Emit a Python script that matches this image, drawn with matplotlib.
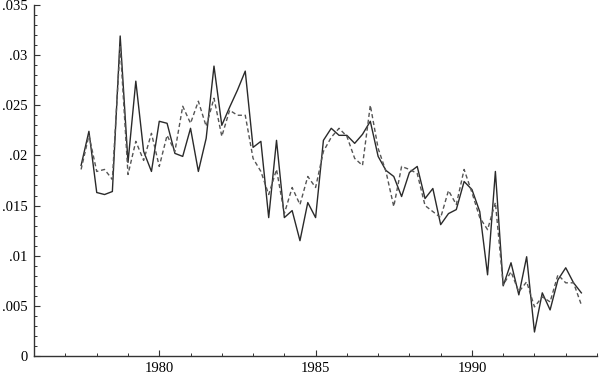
import numpy as np
import matplotlib
matplotlib.use('Agg')
import matplotlib.pyplot as plt
from matplotlib.ticker import MultipleLocator, FuncFormatter

# quarterly series, 1977.5 .. 1993.5
start_year = 1977.5
solid = [.0190, .0224, .0163, .0161, .0164, .0319, .0193, .0274, .0204, .0184,
         .0234, .0232, .0202, .0199, .0227, .0184, .0217, .0289, .0230, .0248,
         .0265, .0284, .0208, .0214, .0138, .0215, .0138, .0145, .0115, .0153,
         .0138, .0215, .0227, .0220, .0220, .0212, .0221, .0234, .0199, .0185,
         .0179, .0159, .0183, .0189, .0157, .0167, .0131, .0142, .0146, .0174,
         .0166, .0144, .0081, .0184, .0070, .0093, .0061, .0099, .0024, .0063,
         .0046, .0076, .0088, .0073, .0063]
dashed = [.0186, .0220, .0184, .0186, .0176, .0310, .0181, .0214, .0195, .0222,
          .0189, .0220, .0204, .0249, .0232, .0254, .0229, .0257, .0219, .0245,
          .0240, .0240, .0197, .0184, .0161, .0186, .0142, .0168, .0151, .0179,
          .0168, .0204, .0218, .0227, .0219, .0197, .0190, .0250, .0207, .0184,
          .0149, .0189, .0186, .0182, .0150, .0144, .0138, .0165, .0151, .0186,
          .0163, .0138, .0126, .0153, .0071, .0084, .0064, .0074, .0049, .0059,
          .0054, .0081, .0073, .0073, .0051]

t = start_year + 0.25 * np.arange(len(solid))

plt.rcParams['font.family'] = ['Liberation Serif', 'DejaVu Serif']

fig = plt.figure(figsize=(6, 3.76), dpi=100)
ax = fig.add_axes([0.057, 0.053, 0.938, 0.934])

ax.plot(t, solid, color='#2a2a2a', lw=1.0)
ax.plot(t, dashed, color='#555555', lw=1.0, ls=(0, (3, 2)))

ax.set_xlim(1976, 1994)
ax.set_ylim(0, 0.035)

ax.xaxis.set_major_locator(MultipleLocator(5))
ax.xaxis.set_minor_locator(MultipleLocator(1))
ax.yaxis.set_major_locator(MultipleLocator(0.005))
ax.yaxis.set_minor_locator(MultipleLocator(0.001))

def yfmt(v, pos):
    if abs(v) < 1e-9:
        return '0'
    s = ('%.3f' % v).rstrip('0')
    return s.lstrip('0')

ax.yaxis.set_major_formatter(FuncFormatter(yfmt))
ax.xaxis.set_major_formatter(FuncFormatter(lambda v, p: '%d' % v))

for s in ['top', 'right']:
    ax.spines[s].set_visible(False)
for s in ['left', 'bottom']:
    ax.spines[s].set_color('#333333')
    ax.spines[s].set_linewidth(1.0)

ax.tick_params(which='major', direction='in', length=4, width=0.8,
               color='#333333', labelsize=10.5, pad=4)
ax.tick_params(which='minor', direction='in', length=2, width=0.7,
               color='#333333')
ax.tick_params(axis='y', pad=5)

fig.savefig('out.png', dpi=100)
